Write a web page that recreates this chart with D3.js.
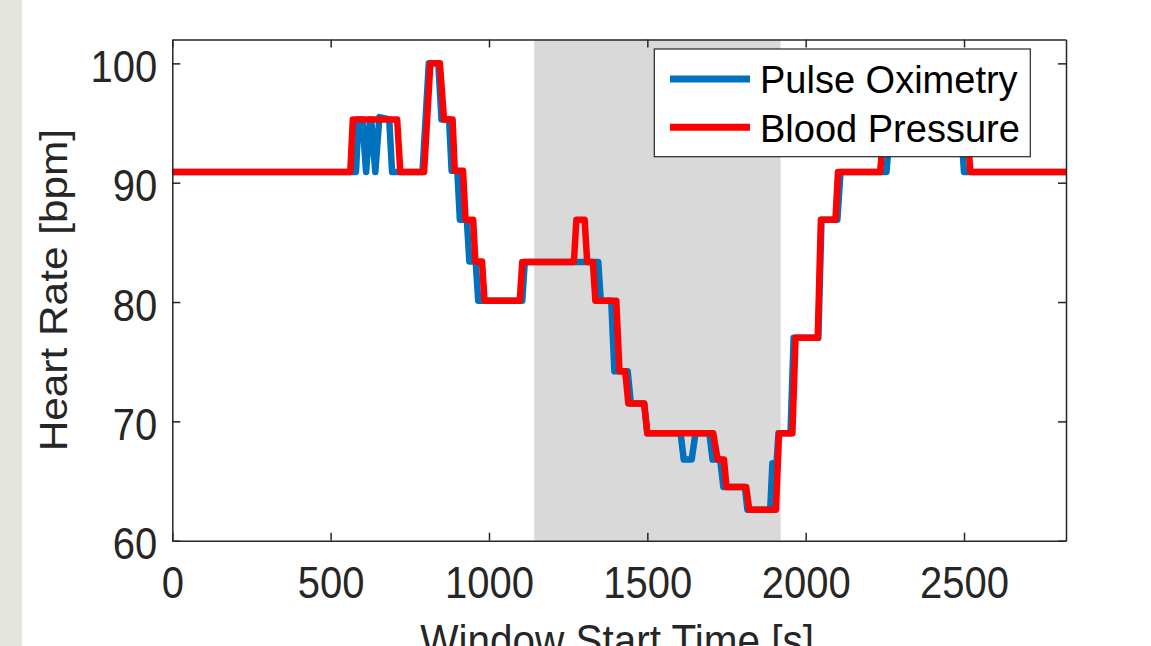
<!DOCTYPE html>
<html>
<head>
<meta charset="utf-8">
<script src="https://cdn.jsdelivr.net/npm/d3@7"></script>
<style>
  html, body { margin: 0; padding: 0; background: #ffffff; }
  svg { display: block; }
  text { font-family: "Liberation Sans", Arial, Helvetica, sans-serif; fill: #262626; }
</style>
</head>
<body>
<svg id="chart" width="1151" height="646"></svg>
<script>
// ---------- data ----------
const seriesNames  = ["Pulse Oximetry", "Blood Pressure"];
const seriesColors = ["#0072BD", "#FF0000"];

// Pulse Oximetry (blue)
const poTime = [0, 580, 588, 600, 612, 624, 628, 641, 654, 685, 694, 790, 810, 840, 850, 874, 882, 900, 908, 930, 938, 958, 966,
  1105, 1113, 1345, 1353, 1386, 1396, 1438, 1448, 1490, 1500, 1605, 1615, 1640, 1652, 1696, 1706, 1730, 1740, 1808, 1816,
  1888, 1895, 1908, 1914, 1952, 1962, 2040, 2050, 2100, 2110, 2255, 2265, 2492, 2500, 2822];
const poRate = [90.9, 90.9, 95.3, 95.3, 90.9, 95.3, 95.3, 90.9, 95.5, 95.3, 90.9, 90.9, 100.0, 100.0, 95.3, 95.3, 91.0, 91.0, 86.9, 86.9, 83.4, 83.4, 80.1,
  80.1, 83.35, 83.35, 80.1, 80.1, 74.2, 74.2, 71.5, 71.5, 69.0, 69.0, 66.8, 66.8, 69.0, 69.0, 66.8, 66.8, 64.5, 64.5, 62.6,
  62.6, 66.5, 66.5, 69.0, 69.0, 77.0, 77.0, 86.9, 86.9, 90.9, 90.9, 94.0, 94.0, 90.9, 90.9];

// Blood Pressure (red)
const bpTime = [0, 562, 570, 710, 720, 795, 815, 845, 858, 885, 892, 918, 926, 950, 957, 978, 986, 1097, 1105, 1268, 1276, 1302, 1310,
  1328, 1336, 1402, 1412, 1430, 1440, 1490, 1500, 1708, 1722, 1742, 1750, 1812, 1822, 1906, 1916, 1958, 1968, 2038, 2048,
  2094, 2102, 2235, 2245, 2512, 2520, 2822];
const bpRate = [90.9, 90.9, 95.3, 95.3, 90.9, 90.9, 100.0, 100.0, 95.3, 95.3, 91.0, 91.0, 86.9, 86.9, 83.4, 83.4, 80.1, 80.1, 83.35, 83.35, 86.9, 86.9, 83.35,
  83.35, 80.1, 80.1, 74.2, 74.2, 71.5, 71.5, 69.0, 69.0, 66.8, 66.8, 64.5, 64.5, 62.6, 62.6, 69.0, 69.0, 77.0, 77.0, 86.9,
  86.9, 90.9, 90.9, 94.0, 94.0, 90.9, 90.9];

const shadeStart = 1143, shadeEnd = 1921;
const xTicks = [0, 500, 1000, 1500, 2000, 2500];
const yTicks = [60, 70, 80, 90, 100];
const xDomain = [0, 2822];
const yDomain = [60, 102];
const xLabel = "Window Start Time [s]";
const yLabel = "Heart Rate [bpm]";

// ---------- layout ----------
const L = 172.3, R = 1066, T = 39.5, B = 540.7;
const axisColor = "#262626";
const svg = d3.select("#chart");

// left gray strip
svg.append("rect").attr("x", 0).attr("y", 0).attr("width", 22).attr("height", 646).attr("fill", "#e5e5e0");

const x = d3.scaleLinear().domain(xDomain).range([L, R]);
const y = d3.scaleLinear().domain(yDomain).range([B, T]);

svg.append("defs").append("clipPath").attr("id", "plotclip")
  .append("rect").attr("x", L).attr("y", T).attr("width", R - L).attr("height", B - T);

// shaded region
svg.append("rect")
  .attr("x", x(shadeStart)).attr("y", T)
  .attr("width", x(shadeEnd) - x(shadeStart)).attr("height", B - T)
  .attr("fill", "#d9d9d9");

// lines
const series = [
  d3.zip(poTime, poRate),
  d3.zip(bpTime, bpRate)
];
const line = d3.line().x(d => x(d[0])).y(d => y(d[1])).curve(d3.curveLinear);
const g = svg.append("g").attr("clip-path", "url(#plotclip)");
series.forEach((s, i) => {
  g.append("path").datum(s)
    .attr("d", line)
    .attr("fill", "none")
    .attr("stroke", seriesColors[i])
    .attr("stroke-width", 6.5)
    .attr("stroke-linejoin", "round");
});

// axes
function styleAxis(sel) {
  sel.select(".domain").attr("stroke", axisColor).attr("stroke-width", 1.5);
  sel.selectAll(".tick line").attr("stroke", axisColor).attr("stroke-width", 1.5);
  sel.selectAll(".tick text").attr("fill", axisColor).style("font-size", "40px")
    .style("font-family", "'Liberation Sans', Arial, sans-serif");
}
const fmt = d3.format("d");

const gB = svg.append("g").attr("transform", `translate(0,${B})`)
  .call(d3.axisBottom(x).tickValues(xTicks).tickSize(-8).tickSizeOuter(0).tickPadding(24).tickFormat(fmt));
styleAxis(gB);
gB.selectAll(".tick text").attr("transform", "scale(1,1.1)");

const gT = svg.append("g").attr("transform", `translate(0,${T})`)
  .call(d3.axisTop(x).tickValues(xTicks).tickSize(-8).tickSizeOuter(0).tickFormat(""));
styleAxis(gT);

const gL = svg.append("g").attr("transform", `translate(${L},0)`)
  .call(d3.axisLeft(y).tickValues(yTicks).tickSize(-8).tickSizeOuter(0).tickPadding(15).tickFormat(fmt));
styleAxis(gL);
gL.selectAll(".tick text").attr("dy", "0.41em").attr("transform", "scale(1,1.1)");

const gR = svg.append("g").attr("transform", `translate(${R},0)`)
  .call(d3.axisRight(y).tickValues(yTicks).tickSize(-8).tickSizeOuter(0).tickFormat(""));
styleAxis(gR);

// axis labels (the reference crops the x label at the bottom edge)
svg.append("text")
  .attr("transform", `translate(${(L + R) / 2 - 2},655.8) scale(1,1.1)`)
  .attr("text-anchor", "middle")
  .style("font-size", "40.5px")
  .text(xLabel);

svg.append("text")
  .attr("transform", `translate(67,${(T + B) / 2}) rotate(-90) scale(1.1,1)`)
  .attr("text-anchor", "middle")
  .style("font-size", "38.5px")
  .text(yLabel);

// legend
const lg = svg.append("g");
lg.append("rect")
  .attr("x", 654.3).attr("y", 49).attr("width", 376).attr("height", 107.7)
  .attr("fill", "#ffffff").attr("stroke", axisColor).attr("stroke-width", 1.2);
seriesNames.forEach((name, i) => {
  const cy = 79 + i * 48.3;
  lg.append("line").attr("x1", 670).attr("x2", 750).attr("y1", cy).attr("y2", cy)
    .attr("stroke", seriesColors[i]).attr("stroke-width", 7);
  lg.append("text").attr("x", 760).attr("y", cy + 14.3)
    .style("font-size", "38px").style("fill", "#000")
    .text(name);
});
</script>
</body>
</html>
